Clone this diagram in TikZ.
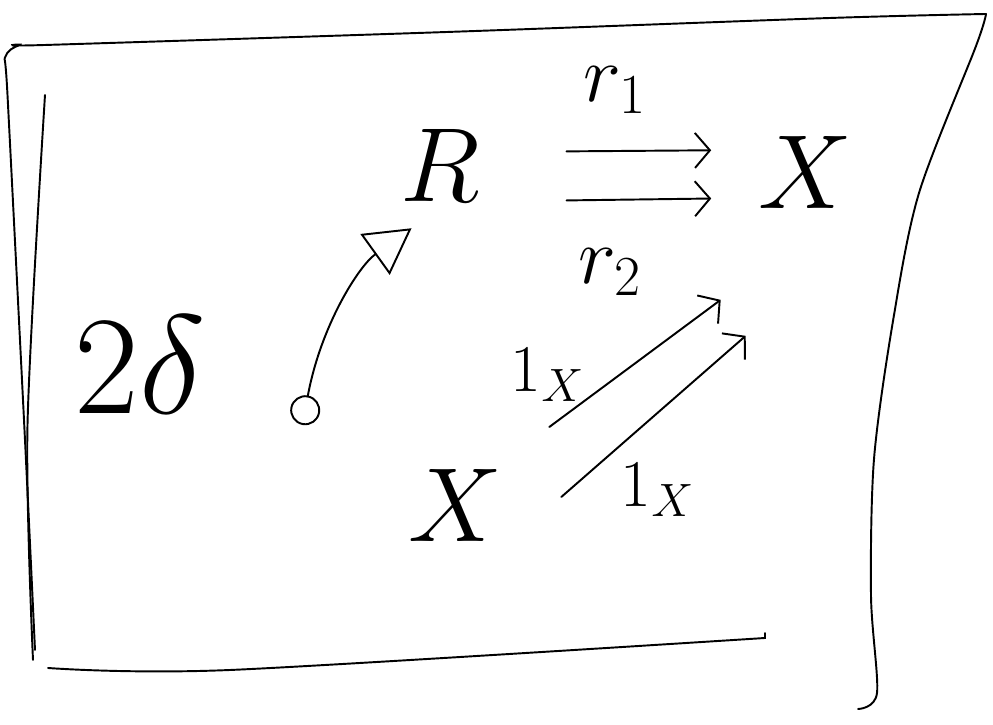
\RequirePackage{fix-cm}
\documentclass[tikz,border=0pt]{standalone}
\usepackage{amsmath, amssymb}
\usepackage{tikz}
\usetikzlibrary{arrows.meta}

\begin{document}
\begin{tikzpicture}[line width=1.1pt,line cap=round,>={Straight Barb[length=3mm,width=7mm]},
	obj/.style={font=\fontsize{60}{60}\selectfont},
	lbl/.style={font=\fontsize{46}{48}\selectfont}]
	\useasboundingbox (0,0) rectangle (19.86,14.5);
	% frame
	\draw plot[smooth] coordinates {(0.7,1.5) (0.5,5.7) (0.15,12.6) (0.1,13.35) (0.4,13.6) (0.9,13.6) (8.94,13.86) (16.6,14.14) (19.72,14.22)};
	\draw plot[smooth] coordinates {(19.72,14.22) (19.52,13.58) (18.38,10.64) (17.86,8.08) (17.48,5.32) (17.42,2.58) (17.54,0.64) (17.16,0.32)};
	\draw plot[smooth] coordinates {(0.9,12.6) (0.55,6) (0.66,1.3)};
	\draw plot[smooth] coordinates {(0.96,1.14) (4.6,1.1) (15.3,1.74)} -- (15.3,1.84);
	% objects and labels
	\node[obj] (R) at (8.8,11.2) {$R$};
	\node[obj] (X1) at (16.1,11.06) {$X$};
	\node[obj] (X2) at (9.1,4.4) {$X$};
	\node[lbl] (r1) at (12.3,12.7) {$r_1$};
	\node[lbl] (r2) at (12.2,9.06) {$r_2$};
	\node[font=\fontsize{80}{80}\selectfont] (d) at (2.8,7.2) {$2\delta$};
	\node[font=\fontsize{38}{40}\selectfont] (id1) at (10.95,7.0) {$1_X$};
	\node[font=\fontsize{38}{40}\selectfont] (id2) at (13.15,4.7) {$1_X$};
	\coordinate (tl) at (6.05,6.0);
	% arrows
	\draw[->,shorten <=16mm,shorten >=8mm] ([yshift=2.6mm]R.east) -- ([yshift=4.4mm]X1.west);
	\draw[->,shorten <=16mm,shorten >=8mm] ([yshift=-7.3mm]R.east) -- ([yshift=-5.2mm]X1.west);
	\draw[{Circle[open,length=6mm]}-{Triangle[open,length=9mm,width=10mm]},shorten >=7mm] (tl) to[bend left=22] (R.south);
	\draw[->] ([shift={(0.81,1.56)}]X2.east) -- ([shift={(-0.61,-1.70)}]X1.south west);
	\draw[->] ([shift={(1.05,0.16)}]X2.east) -- ([shift={(-0.11,-2.42)}]X1.south west);
\end{tikzpicture}
\end{document}
